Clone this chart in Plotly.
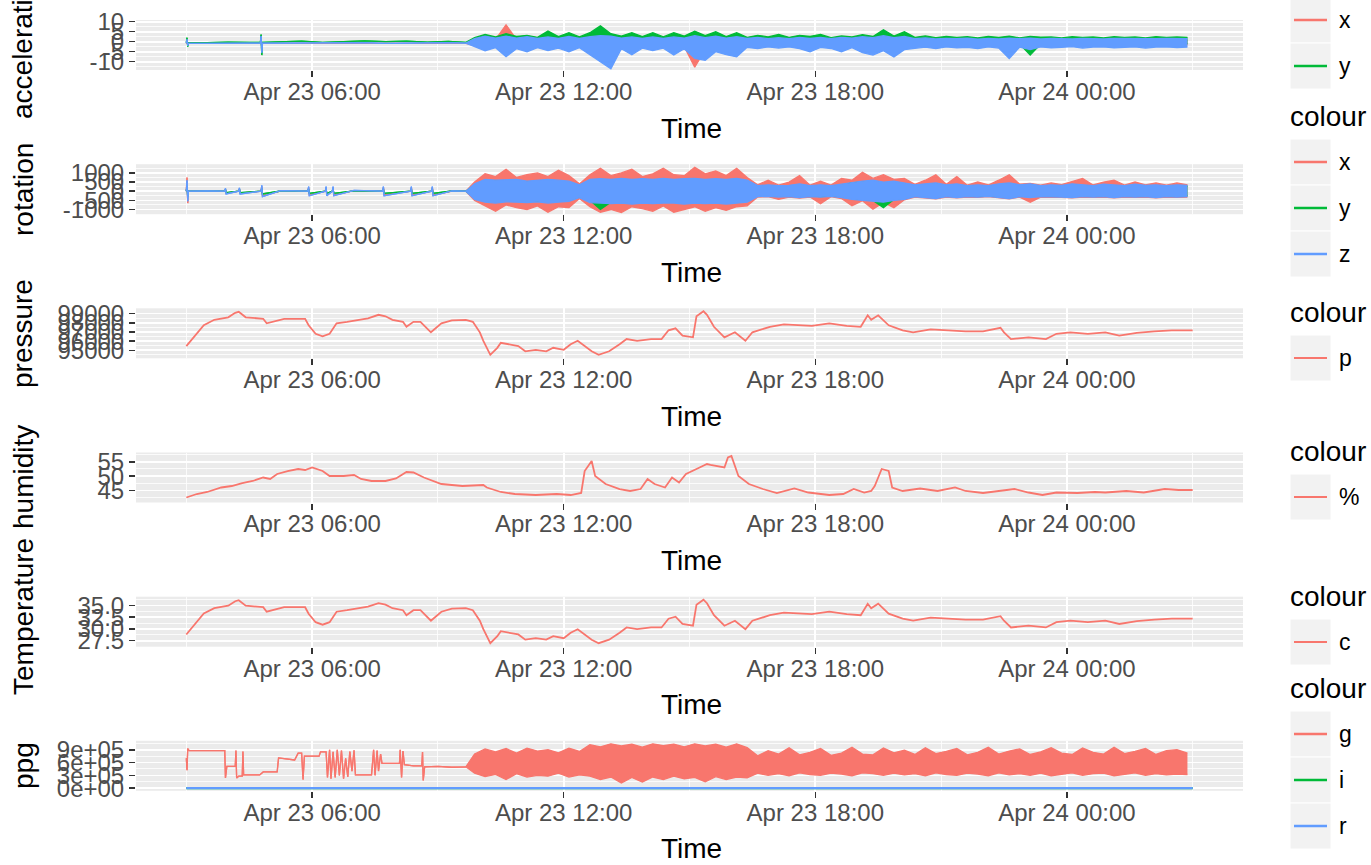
import pandas as pd
import plotly.graph_objects as go

W, H = 1371, 865
BASE = pd.Timestamp("2016-04-23")
RED, GREEN, BLUE = "#F8766D", "#00BA38", "#619CFF"
FONT = "Liberation Sans, Arial, Helvetica, sans-serif"

# ---------------- data ----------------
# smooth sensors (pressure & temperature share the same reading times)
smooth_time = ["03:00","03:10","03:25","03:40","04:00","04:10","04:15","04:25","04:50","04:55",
               "05:05","05:20","05:50","05:55","06:05","06:15","06:25","06:35","06:50","07:05",
               "07:20","07:35","07:45","07:55","08:10","08:15","08:25","08:35","08:50","09:05",
               "09:20","09:40","09:50","10:00","10:05","10:15","10:25","10:30","10:45","10:55",
               "11:05","11:20","11:35","11:45","12:00","12:10","12:20","12:30","12:40","12:50",
               "13:05","13:20","13:30","13:45","14:05","14:20","14:30","14:40","14:50","15:05",
               "15:10","15:20","15:25","15:35","15:50","16:05","16:20","16:30","16:55","17:15",
               "17:55","18:20","18:45","19:05","19:15","19:20","19:30","19:45","20:05","20:20",
               "20:45","21:10","21:35","22:00","22:25","22:30","22:40","23:05","23:30","23:45",
               "00:05","00:30","00:55","01:15","01:40","02:05","02:30","03:00"]

pressure_p = [95463, 96417, 97747, 98325, 98597, 99088, 99197, 98597, 98434, 97943,
              98107, 98434, 98434, 97725, 96799, 96526, 96799, 97943, 98107, 98325,
              98488, 98870, 98706, 98325, 98107, 97562, 98107, 98107, 96962, 97943,
              98270, 98325, 98107, 96962, 96036, 94510, 95273, 95818, 95654, 95463,
              94891, 95055, 94891, 95273, 95055, 95654, 96036, 95463, 94891, 94510,
              94891, 95654, 96226, 96036, 96226, 96226, 97180, 97398, 96608, 96417,
              98706, 99251, 98870, 97562, 96417, 96962, 96036, 96962, 97562, 97834,
              97671, 97943, 97671, 97562, 98815, 98325, 98815, 97725, 97180, 96962,
              97289, 97180, 97071, 97071, 97453, 96962, 96226, 96417, 96226, 96799,
              96962, 96799, 96962, 96608, 96908, 97071, 97180, 97180]

temperature_c = [28.83, 30.69, 33.28, 34.41, 34.94, 35.89, 36.11, 34.94, 34.62, 33.66,
                 33.98, 34.62, 34.62, 33.24, 31.43, 30.90, 31.43, 33.66, 33.98, 34.41,
                 34.73, 35.47, 35.15, 34.41, 33.98, 32.92, 33.98, 33.98, 31.75, 33.66,
                 34.30, 34.41, 33.98, 31.75, 29.95, 26.97, 28.46, 29.52, 29.20, 28.83,
                 27.72, 28.04, 27.72, 28.46, 28.04, 29.20, 29.95, 28.83, 27.72, 26.97,
                 27.72, 29.20, 30.32, 29.95, 30.32, 30.32, 32.18, 32.60, 31.06, 30.69,
                 35.15, 36.21, 35.47, 32.92, 30.69, 31.75, 29.95, 31.75, 32.92, 33.45,
                 33.13, 33.66, 33.13, 32.92, 35.36, 34.41, 35.36, 33.24, 32.18, 31.75,
                 32.39, 32.18, 31.96, 31.96, 32.71, 31.75, 30.32, 30.69, 30.32, 31.43,
                 31.75, 31.43, 31.75, 31.06, 31.65, 31.96, 32.18, 32.18]

humidity_time = ["03:00","03:15","03:30","03:50","04:05","04:20","04:35","04:50","05:00","05:10",
                 "05:25","05:40","05:50","06:00","06:15","06:25","06:45","07:00","07:10","07:25",
                 "07:45","08:00","08:15","08:25","08:40","09:05","09:35","10:05","10:10","10:30",
                 "10:50","11:20","11:50","12:10","12:25","12:30","12:40","12:45","13:00","13:20",
                 "13:35","13:50","14:00","14:10","14:25","14:35","14:45","14:55","15:10","15:25",
                 "15:30","15:50","15:55","16:00","16:10","16:25","16:45","17:05","17:30","17:50",
                 "18:20","18:40","18:55","19:05","19:10","19:20","19:25","19:35","19:45","19:50",
                 "20:05","20:30","20:55","21:20","21:35","22:00","22:25","22:45","23:05","23:25",
                 "23:45","00:15","00:40","00:55","01:25","01:50","02:20","02:40","03:00"]
humidity_pct = [42.56, 43.78, 44.48, 46.05, 46.57, 47.61, 48.31, 49.53, 49.01, 50.75,
                51.79, 52.49, 52.14, 53.01, 51.79, 50.05, 50.05, 50.40, 49.01, 48.31,
                48.31, 49.18, 51.45, 51.27, 49.53, 47.26, 46.57, 46.92, 46.05, 44.48,
                43.78, 43.43, 43.78, 43.43, 44.13, 51.79, 55.28, 50.05, 47.26, 45.52,
                44.83, 45.52, 49.01, 47.26, 46.05, 49.53, 47.79, 50.75, 52.49, 54.23,
                53.89, 53.01, 56.50, 57.02, 50.05, 47.26, 45.52, 44.13, 45.70, 44.30,
                43.43, 43.78, 45.52, 44.83, 44.30, 44.83, 46.57, 52.49, 51.79, 46.05,
                44.83, 45.70, 44.83, 46.05, 44.83, 44.13, 44.83, 45.52, 44.30, 43.43,
                44.30, 44.13, 44.48, 44.30, 44.83, 44.30, 45.52, 45.17, 45.17]

# quiet early phase of the motion sensors (individual readings)
acc_quiet_time = ["03:00","03:01","03:02","03:03","03:30","04:00","04:30","04:46","04:47","04:48",
                  "04:49","05:15","05:45","06:15","06:45","07:15","07:45","08:15","08:45","09:15","09:40"]
acc_x_quiet = [-0.8,0.5,-1.5,-0.8,-0.8,-0.7,-0.8,-0.8,1.5,-3.0,-0.8,-0.8,-0.9,-0.7,-0.8,-0.9,-0.7,-0.8,-0.9,-0.8,-0.8]
acc_y_quiet = [-0.4,2.0,-2.5,-0.4,-0.5,-0.2,-0.4,-0.4,3.6,-6.7,-0.3,-0.1,0.3,-0.3,0.2,0.4,0.0,0.3,-0.2,0.2,-0.3]
acc_z_quiet = [-0.7,1.2,-2.0,-0.7,-0.8,-0.6,-0.7,-0.7,2.8,-5.5,-0.6,-0.7,-0.6,-0.8,-0.6,-0.5,-0.8,-0.6,-0.7,-0.5,-0.7]

# active phase: max and min of each 15-minute bin, bins starting 09:45
ACTIVE_START = "09:45"
acc_x_max = [1.0,1.5,1.2,8.4,1.2,1.0,1.0,1.2,1.0,1.5, 1.0,1.5,1.5,1.5,1.2,1.0,1.2,1.0,1.0,1.2,
             1.0,1.5,1.5,1.5,1.2,1.2,1.0,1.0,1.0,0.8, 1.0,1.0,1.0,1.0,0.8,1.0,1.0,1.2,1.5,1.5,
             1.5,1.2,1.0,0.8,0.8,0.8,0.8,0.8,0.8,0.8, 0.8,1.0,0.8,0.8,0.8,0.8,0.8,0.7,0.8,0.8,
             0.7,0.8,0.8,0.7,0.8,0.8,0.7,0.8,0.8]
acc_x_min = [-2.0,-3.0,-2.5,-3.0,-3.0,-2.5,-2.0,-2.5,-2.0,-2.5, -2.5,-3.0,-4.0,-4.0,-2.5,-3.0,-2.5,-2.0,-2.5,-3.0,
             -2.5,-12.7,-4.0,-3.5,-3.0,-3.0,-2.0,-1.8,-2.0,-1.8, -2.0,-1.8,-2.5,-2.0,-1.8,-2.5,-2.0,-2.5,-3.0,-3.5,
             -3.0,-3.0,-2.0,-1.8,-2.0,-1.8,-1.8,-1.8,-2.0,-1.8, -1.8,-2.5,-2.0,-2.0,-1.8,-1.6,-1.8,-1.6,-1.8,-1.6,
             -1.8,-1.6,-1.8,-1.6,-1.8,-1.6,-1.8,-1.6,-1.6]
acc_y_max = [2.0,3.6,2.4,4.0,2.6,3.2,2.2,5.3,2.6,4.5, 2.4,4.5,7.9,4.0,2.8,4.5,2.6,4.5,2.4,4.5,
             2.8,5.3,3.0,5.0,2.6,4.5,2.2,3.2,2.4,3.6, 2.2,3.2,2.6,3.6,2.0,2.9,2.4,3.5,2.6,6.0,
             2.8,5.0,2.2,2.9,2.0,2.6,2.2,2.5,1.9,2.6, 2.1,2.8,1.9,2.6,2.3,2.4,1.9,2.5,2.2,2.4,
             1.9,2.5,2.2,2.4,1.9,2.5,2.1,2.4,2.2]
acc_y_min = [-1.5,-2.0,-2.0,-2.0,-2.0,-1.5,-1.5,-2.0,-1.8,-2.0, -1.5,-2.0,-2.5,-3.0,-2.0,-2.0,-1.5,-1.8,-2.0,-2.0,
             -2.0,-3.0,-3.0,-2.5,-2.0,-2.0,-1.5,-1.5,-1.5,-1.5, -1.5,-1.5,-1.5,-1.5,-1.5,-1.5,-1.8,-2.0,-2.5,-2.5,
             -2.0,-2.0,-1.5,-1.2,-1.2,-1.2,-1.2,-1.2,-1.2,-1.0, -1.2,-1.5,-1.2,-6.7,-1.2,-1.0,-1.0,-1.0,-1.0,-1.0,
             -1.0,-1.0,-1.0,-1.0,-1.0,-1.0,-1.0,-1.0,-1.0]
acc_z_max = [1.5,2.8,1.8,2.8,1.8,2.5,1.6,2.4,1.7,2.6, 1.6,2.5,3.0,2.8,1.8,2.4,1.7,2.4,1.6,2.4,
             1.8,3.0,2.0,2.8,1.8,2.5,1.6,2.2,1.5,2.0, 1.5,2.2,1.6,2.2,1.5,2.2,1.8,2.5,2.0,3.0,
             2.0,2.6,1.5,1.9,1.4,1.7,1.5,1.8,1.3,1.6, 1.4,1.8,1.5,1.8,1.4,1.6,1.5,1.4,1.7,1.5,
             1.4,1.6,1.5,1.7,1.4,1.5,1.6,1.4,1.5]
acc_z_min = [-2.5,-4.5,-3.0,-7.5,-3.5,-5.0,-3.0,-4.5,-3.2,-5.0, -3.0,-6.5,-10.0,-13.5,-3.5,-6.5,-3.2,-4.5,-3.2,-6.7,
             -3.5,-8.4,-9.3,-5.0,-6.5,-7.6,-2.8,-3.5,-2.6,-3.2, -2.6,-3.5,-5.0,-2.8,-3.4,-5.0,-3.0,-5.5,-6.7,-4.5,
             -7.6,-4.0,-3.3,-2.7,-3.5,-2.6,-3.1,-2.8,-3.5,-2.6, -3.2,-8.4,-2.7,-4.0,-2.6,-3.1,-2.8,-2.5,-3.2,-2.7,
             -2.6,-3.1,-2.8,-2.6,-3.2,-2.7,-2.6,-3.0,-2.7]

rot_quiet_time = ["03:00","03:01","03:02","03:03","03:30","03:55","03:56","03:57","04:15","04:16",
                  "04:17","04:47","04:48","04:49","05:15","05:54","05:55","05:56","06:19","06:20",
                  "06:21","06:29","06:30","06:31","07:00","07:41","07:42","07:43","08:21","08:22",
                  "08:23","08:51","08:52","08:53","09:20","09:40"]
rot_x_quiet = [0,750,-650,0,10,0,100,-100,0,120,-100,0,250,-250,20,0,200,-200,0,200,
               -200,0,200,-200,30,0,200,-200,0,200,-200,0,200,-200,10,0]
rot_y_quiet = [0,300,-300,0,10,0,80,-80,0,100,-80,0,150,-150,10,0,120,-120,0,120,
               -120,0,120,-120,20,0,120,-120,0,120,-120,0,120,-120,10,0]
rot_z_quiet = [0,600,-550,0,20,0,150,-150,0,180,-150,0,320,-300,30,0,250,-250,0,250,
               -250,0,250,-250,40,0,250,-250,0,250,-250,0,250,-250,20,0]

rot_x_max = [500,950,800,1200,750,900,1000,800,1150,850, 400,900,1250,850,1000,1200,800,950,1250,900,
             850,1300,950,1100,850,1250,750, 350,600,330,500,850,330,550,330,700, 600,1040,700,900,650,700,
             370,600,900,380,800,330,500,340,600,900, 380,430,330,450,360,550,700,340,500,600,
             330,500,350,450,330,450,350]
rot_x_min = [-500,-800,-1100,-750,-900,-1000,-800,-1150,-850,-900, -400,-850,-1150,-1000,-1170,-850,-950,-1100,-800,-1150,
             -1000,-850,-1100,-900,-1050,-850,-800, -320,-300,-450,-320,-380,-320,-680,-300,-400, -800,-520,-980,-620,-900,-470,
             -320,-370,-420,-320,-370,-320,-340,-300,-370,-420, -320,-600,-320,-320,-340,-370,-320,-340,-320,-370,
             -320,-340,-320,-370,-320,-340,-320]
rot_y_max = [350,500,550,500,550,500,500,550,500,450, 300,550,600,550,600,550,600,550,600,550,
             600,600,550,600,550,600,500,250,300,250, 280,350,250,300,250,320,450,500,550,450,
             500,400,300,350,400,300,350,250,300,250, 350,400,300,350,250,300,280,350,300,250,
             320,300,250,320,280,300,250,300,280]
rot_y_min = [-350,-550,-500,-500,-550,-500,-550,-500,-500,-500, -300,-500,-1000,-600,-550,-600,-550,-600,-550,-550,
             -600,-550,-600,-550,-600,-550,-500,-250,-250,-280, -250,-300,-250,-300,-250,-300,-400,-450,-500,-900,
             -450,-400,-250,-300,-350,-250,-300,-250,-280,-250, -300,-350,-250,-300,-250,-250,-280,-300,-250,-280,
             -250,-300,-250,-280,-250,-300,-250,-280,-250]
rot_z_max = [400,650,600,620,650,550,600,650,600,550, 350,650,680,650,700,650,680,650,700,650,
             680,700,650,680,650,700,600,300,350,300, 320,400,300,350,300,380,500,550,600,500,
             550,450,350,400,450,350,400,300,350,300, 400,450,350,400,300,350,320,400,350,300,
             380,350,300,380,320,350,300,350,320]
rot_z_min = [-450,-600,-650,-580,-600,-620,-580,-650,-600,-550, -350,-620,-650,-680,-650,-700,-650,-680,-650,-650,
             -700,-650,-680,-650,-700,-650,-600,-300,-280,-320, -300,-350,-300,-320,-280,-350,-450,-500,-550,-600,
             -500,-450,-300,-350,-400,-300,-350,-300,-320,-280, -350,-400,-300,-350,-300,-300,-320,-350,-300,-320,
             -300,-350,-300,-320,-300,-350,-300,-320,-300]

ppg_quiet_time = ["03:00","03:01","03:02","03:04","03:55","03:56","03:58","04:10","04:11","04:12",
                  "04:15","04:20","04:21","04:22","04:45","04:50","05:10","05:12","05:35","05:40",
                  "05:45","05:47","05:49","06:10","06:12","06:20","06:22","06:25","06:27","06:30",
                  "06:33","06:36","06:39","06:42","06:45","06:48","06:51","06:54","06:57","07:00",
                  "07:02","07:25","07:28","07:30","07:33","07:35","07:38","07:40","08:05","08:06",
                  "08:08","08:10","08:12","08:25","08:37","08:38","08:39","08:41","09:00","09:20","09:40"]
ppg_g_quiet = [7.0e5,4.2e5,9.3e5,8.8e5,8.8e5,2.4e5,5.1e5,5.1e5,8.8e5,2.4e5,
               2.8e5,2.8e5,8.6e5,3.1e5,3.1e5,3.8e5,3.8e5,7.1e5,6.6e5,8.2e5,
               8.2e5,2.0e5,7.5e5,7.5e5,8.5e5,8.5e5,2.5e5,9.0e5,2.2e5,8.5e5,
               2.5e5,9.0e5,3.0e5,8.8e5,2.2e5,7.0e5,2.6e5,8.6e5,4.0e5,8.9e5,
               3.1e5,3.1e5,9.0e5,3.0e5,8.8e5,4.0e5,8.0e5,5.8e5,5.8e5,9.0e5,
               2.5e5,8.7e5,5.5e5,5.2e5,5.3e5,8.5e5,1.8e5,5.0e5,5.1e5,4.9e5,5.0e5]
ppg_g_max = [8.0e5,9.2e5,8.5e5,9.3e5,8.2e5,9.4e5,8.7e5,9.0e5,8.3e5,9.4e5, 8.6e5,
             1.02e6,9.7e5,1.04e6,9.9e5,1.03e6,9.6e5,1.04e6,1.0e6,1.03e6,9.7e5, 1.04e6,9.9e5,1.03e6,9.6e5,1.04e6,9.5e5,
             7.6e5,8.8e5,8.0e5,9.5e5,7.8e5,8.4e5,9.3e5,7.7e5,8.2e5,9.6e5, 8.0e5,7.8e5,9.4e5,8.3e5,8.9e5,7.9e5,9.5e5,8.1e5,8.6e5,9.3e5,
             7.8e5,8.4e5,9.6e5,8.0e5,8.7e5,9.2e5,7.9e5,8.5e5,9.5e5,8.2e5, 7.9e5,9.4e5,8.4e5,8.0e5,9.6e5,8.1e5,8.6e5,9.3e5,7.9e5,8.8e5,
             9.0e5,8.2e5]
ppg_g_min = [3.5e5,2.7e5,3.2e5,2.0e5,3.4e5,2.6e5,3.0e5,2.8e5,3.5e5,2.6e5, 3.1e5,
             2.8e5,2.0e5,2.6e5,1.2e5,2.5e5,1.4e5,2.6e5,2.0e5,2.8e5,2.2e5, 2.5e5,1.5e5,2.7e5,2.0e5,2.6e5,2.4e5,
             3.5e5,3.0e5,3.4e5,2.9e5,3.6e5,3.2e5,3.0e5,3.5e5,3.3e5,2.9e5, 3.6e5,3.4e5,3.0e5,3.5e5,3.1e5,3.4e5,2.9e5,3.6e5,3.2e5,3.0e5,
             3.5e5,3.3e5,2.9e5,3.6e5,3.1e5,3.4e5,3.0e5,3.5e5,2.9e5,3.3e5, 3.6e5,3.0e5,3.4e5,3.5e5,2.9e5,3.2e5,3.6e5,3.0e5,3.4e5,3.1e5,
             3.3e5,3.2e5]
ppg_flat_time = ["03:00","09:00","15:00","21:00","03:00"]
ppg_i = [0, 0, 0, 0, 0]
ppg_r = [0, 0, 0, 0, 0]

# axis ticks
x_major = ["2016-04-23 06:00", "2016-04-23 12:00", "2016-04-23 18:00", "2016-04-24 00:00"]
x_minor = ["2016-04-23 03:00", "2016-04-23 09:00", "2016-04-23 15:00", "2016-04-23 21:00", "2016-04-24 03:00"]
acc_ticks = [-10, -5, 0, 5, 10]
rot_ticks = [-1000, -500, 0, 500, 1000]
pres_ticks = [95000, 96000, 97000, 98000, 99000]
hum_ticks = [45, 50, 55]
temp_ticks = [27.5, 30.0, 32.5, 35.0]
temp_labels = ["27.5", "30.0", "32.5", "35.0"]
ppg_ticks = [0, 300000, 600000, 900000]
ppg_labels = ["0e+00", "3e+05", "6e+05", "9e+05"]


# ---------------- helpers ----------------
def clock(times):
    out, day, prev = [], 0, -1
    for s in times:
        h, m = s.split(":")
        mins = int(h) * 60 + int(m)
        if mins < prev:
            day += 1
        prev = mins
        out.append(BASE + pd.Timedelta(days=day, minutes=mins))
    return out


def bin_centres(start, n, width=15.0):
    t0 = clock([start])[0]
    return [t0 + pd.Timedelta(minutes=width * k + width / 2) for k in range(n)]


def px_x(p):
    return p / W


def px_y(p):
    return 1 - p / H


PANEL_TOP = [20, 164.2, 308.3, 452.5, 596.7, 740.8]
PANEL_H = 50
X_DOMAIN = [136 / W, 1243 / W]
X_RANGE = ["2016-04-23 01:48:00", "2016-04-24 04:12:00"]

fig = go.Figure()


def axes(k):
    ax = "" if k == 1 else str(k)
    return "x" + ax, "y" + ax


def line(x, y, color, k, width=1.8):
    xa, ya = axes(k)
    fig.add_trace(go.Scatter(x=x, y=y, mode="lines", line=dict(color=color, width=width),
                             xaxis=xa, yaxis=ya, showlegend=False, hoverinfo="skip"))


def band(quiet_time, quiet_vals, vmax, vmin, color, k):
    """dense sensor trace drawn as its envelope: quiet readings + 15-min max/min bins"""
    xa, ya = axes(k)
    t = clock(quiet_time) + bin_centres(ACTIVE_START, len(vmax))
    hi = list(quiet_vals) + list(vmax)
    lo = list(quiet_vals) + list(vmin)
    fig.add_trace(go.Scatter(x=t, y=hi, mode="lines", line=dict(color=color, width=1.3),
                             xaxis=xa, yaxis=ya, showlegend=False, hoverinfo="skip"))
    fig.add_trace(go.Scatter(x=t, y=lo, mode="lines", line=dict(color=color, width=1.3),
                             fill="tonexty", fillcolor=color,
                             xaxis=xa, yaxis=ya, showlegend=False, hoverinfo="skip"))


band(acc_quiet_time, acc_x_quiet, acc_x_max, acc_x_min, RED, 1)
band(acc_quiet_time, acc_y_quiet, acc_y_max, acc_y_min, GREEN, 1)
band(acc_quiet_time, acc_z_quiet, acc_z_max, acc_z_min, BLUE, 1)

band(rot_quiet_time, rot_x_quiet, rot_x_max, rot_x_min, RED, 2)
band(rot_quiet_time, rot_y_quiet, rot_y_max, rot_y_min, GREEN, 2)
band(rot_quiet_time, rot_z_quiet, rot_z_max, rot_z_min, BLUE, 2)

st = clock(smooth_time)
line(st, pressure_p, RED, 3)
line(clock(humidity_time), humidity_pct, RED, 4)
line(st, temperature_c, RED, 5)

band(ppg_quiet_time, ppg_g_quiet, ppg_g_max, ppg_g_min, RED, 6)
line(clock(ppg_flat_time), ppg_i, GREEN, 6, 2.4)
line(clock(ppg_flat_time), ppg_r, BLUE, 6, 2.4)

tickfont = dict(family=FONT, size=24, color="#4D4D4D")

yspec = [
    dict(range=[-14.15, 10.85], tickvals=acc_ticks, ticktext=[str(v) for v in acc_ticks],
         minor=[-12.5, -7.5, -2.5, 2.5, 7.5]),
    dict(range=[-1257, 1475], tickvals=rot_ticks, ticktext=[str(v) for v in rot_ticks],
         minor=[-750, -250, 250, 750, 1250]),
    dict(range=[94128, 99578], tickvals=pres_ticks, ticktext=[str(v) for v in pres_ticks],
         minor=[94500, 95500, 96500, 97500, 98500, 99500]),
    dict(range=[40.82, 58.24], tickvals=hum_ticks, ticktext=[str(v) for v in hum_ticks],
         minor=[42.5, 47.5, 52.5, 57.5]),
    dict(range=[26.23, 36.85], tickvals=temp_ticks, ticktext=temp_labels,
         minor=[28.75, 31.25, 33.75, 36.25]),
    dict(range=[-63400, 1111000], tickvals=ppg_ticks, ticktext=ppg_labels,
         minor=[150000, 450000, 750000, 1050000]),
]

layout = dict(width=W, height=H, margin=dict(l=0, r=0, t=0, b=0),
              paper_bgcolor="white", plot_bgcolor="#EBEBEB", showlegend=False,
              font=dict(family=FONT, color="black"))

for k in range(1, 7):
    top = PANEL_TOP[k - 1]
    ydom = [px_y(top + PANEL_H), px_y(top)]
    ax = "" if k == 1 else str(k)
    layout["xaxis" + ax] = dict(
        type="date", domain=X_DOMAIN, range=X_RANGE, anchor="y" + ax,
        tickvals=x_major, tickformat="%b %d %H:%M", ticks="outside", ticklen=6,
        tickwidth=1.5, tickcolor="#333333", tickfont=tickfont, ticklabelstandoff=-6,
        showgrid=True, gridcolor="white", gridwidth=1.6,
        minor=dict(tickvals=x_minor, showgrid=True, gridcolor="white", gridwidth=0.8, ticks=""),
        zeroline=False, showline=False, automargin=False, fixedrange=True)
    s = yspec[k - 1]
    layout["yaxis" + ax] = dict(
        domain=ydom, range=s["range"], anchor="x" + ax,
        tickmode="array", tickvals=s["tickvals"], ticktext=s["ticktext"],
        ticks="outside", ticklen=6, tickwidth=1.5, tickcolor="#333333", tickfont=tickfont,
        showgrid=True, gridcolor="white", gridwidth=1.6,
        minor=dict(tickvals=s["minor"], showgrid=True, gridcolor="white", gridwidth=0.8, ticks=""),
        zeroline=False, showline=False, automargin=False, fixedrange=True)

fig.update_layout(**layout)

annotations = []
shapes = []
y_titles = ["acceleration", "rotation", "pressure", "humidity", "Temperature", "ppg"]
y_title_centers = [44, 190, 334, 477, 617, 766]
for k in range(6):
    top = PANEL_TOP[k]
    annotations.append(dict(text="Time", x=px_x(691), y=px_y(top + 108), xref="paper", yref="paper",
                            xanchor="center", yanchor="middle", showarrow=False,
                            font=dict(family=FONT, size=28, color="black")))
    annotations.append(dict(text=y_titles[k], x=px_x(23), y=px_y(y_title_centers[k]), xref="paper",
                            yref="paper", xanchor="center", yanchor="middle", showarrow=False,
                            textangle=-90, font=dict(family=FONT, size=28, color="black")))

# legends (ggplot style, one per panel)
legends = [
    (None, [("x", RED, 20), ("y", GREEN, 66)], 2.6),
    (117, [("x", RED, 162), ("y", GREEN, 208), ("z", BLUE, 254)], 2.6),
    (312, [("p", RED, 358)], 1.8),
    (452, [("%", RED, 497)], 1.8),
    (596, [("c", RED, 642)], 1.8),
    (688, [("g", RED, 734), ("i", GREEN, 780), ("r", BLUE, 826)], 2.6),
]
for title_y, keys, lw in legends:
    if title_y is not None:
        annotations.append(dict(text="colour", x=px_x(1288), y=px_y(title_y), xref="paper", yref="paper",
                                xanchor="left", yanchor="middle", showarrow=False,
                                font=dict(family=FONT, size=28, color="black")))
    for lab, col, cy in keys:
        shapes.append(dict(type="rect", xref="paper", yref="paper", x0=px_x(1290), x1=px_x(1331),
                           y0=px_y(cy + 23), y1=px_y(cy - 23), fillcolor="#F2F2F2",
                           line=dict(color="white", width=1), layer="below"))
        shapes.append(dict(type="line", xref="paper", yref="paper", x0=px_x(1294), x1=px_x(1327),
                           y0=px_y(cy), y1=px_y(cy), line=dict(color=col, width=lw)))
        annotations.append(dict(text=lab, x=px_x(1337), y=px_y(cy), xref="paper", yref="paper",
                                xanchor="left", yanchor="middle", showarrow=False,
                                font=dict(family=FONT, size=23, color="black")))

fig.update_layout(annotations=annotations, shapes=shapes)

fig.write_html("out.html", config={"displayModeBar": False, "staticPlot": True},
               post_script="document.body.style.margin='0';")
